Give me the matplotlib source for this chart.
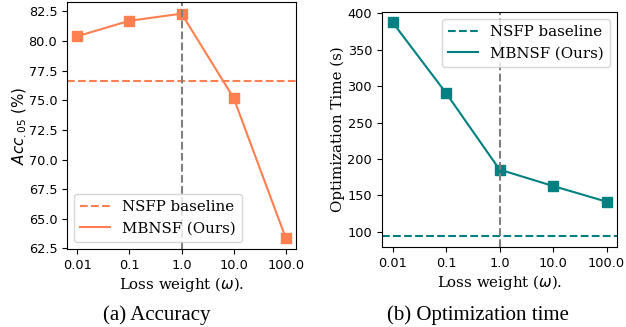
import matplotlib
matplotlib.use("Agg")
import matplotlib.pyplot as plt
from matplotlib.ticker import FixedLocator, FixedFormatter, NullLocator

loss_weights = [0.01, 0.1, 1.0, 10.0, 100.0]
tick_labels = ["0.01", "0.1", "1.0", "10.0", "100.0"]
acc_mbnsf = [80.4, 81.7, 82.3, 75.2, 63.4]
acc_nsfp = 76.6
time_mbnsf = [387.5, 290.5, 185.5, 163.0, 141.5]
time_nsfp = 94.0
chosen_weight = 1.0

orange = "#FF7F50"
teal = "#008080"
serif = "DejaVu Serif"
cap_font = "Liberation Serif"
lab_fs = 10.8

fig = plt.figure(figsize=(6.26, 3.27), dpi=100)
ax1 = fig.add_axes([0.107, 0.2385, 0.366, 0.754])
ax2 = fig.add_axes([0.610, 0.2446, 0.376, 0.720])

def style(ax):
    ax.set_xscale("log")
    ax.xaxis.set_major_locator(FixedLocator(loss_weights))
    ax.xaxis.set_major_formatter(FixedFormatter(tick_labels))
    ax.xaxis.set_minor_locator(NullLocator())
    ax.tick_params(labelsize=9.3)
    ax.set_xlabel(r"Loss weight ($\omega$).", family=serif, fontsize=lab_fs, labelpad=2)

def legend(ax, loc):
    leg = ax.legend(loc=loc, prop={"family": serif, "size": lab_fs})
    for h in leg.legend_handles:
        h.set_marker("")
    return leg

# Left panel
ax1.axhline(acc_nsfp, color=orange, ls="--", lw=1.5, label="NSFP baseline")
ax1.plot(loss_weights, acc_mbnsf, color=orange, lw=1.5, marker="s", ms=6.5, label="MBNSF (Ours)")
ax1.axvline(chosen_weight, color="gray", ls="--", lw=1.5)
style(ax1)
ax1.set_ylabel(r"$Acc_{.05}$ (%)", fontsize=lab_fs, labelpad=0)
ax1.set_yticks([62.5, 65.0, 67.5, 70.0, 72.5, 75.0, 77.5, 80.0, 82.5])
legend(ax1, "lower left")

# Right panel
ax2.axhline(time_nsfp, color=teal, ls="--", lw=1.5, label="NSFP baseline")
ax2.plot(loss_weights, time_mbnsf, color=teal, lw=1.5, marker="s", ms=6.5, label="MBNSF (Ours)")
ax2.axvline(chosen_weight, color="gray", ls="--", lw=1.5)
style(ax2)
ax2.set_ylabel("Optimization Time (s)", family=serif, fontsize=lab_fs, labelpad=2)
ax2.set_yticks([100, 150, 200, 250, 300, 350, 400])
legend(ax2, "upper right")

fig.text(0.251, 0.02, "(a) Accuracy", family=cap_font, fontsize=15, ha="center")
fig.text(0.764, 0.02, "(b) Optimization time", family=cap_font, fontsize=15, ha="center")

fig.savefig("out.png", dpi=100)
